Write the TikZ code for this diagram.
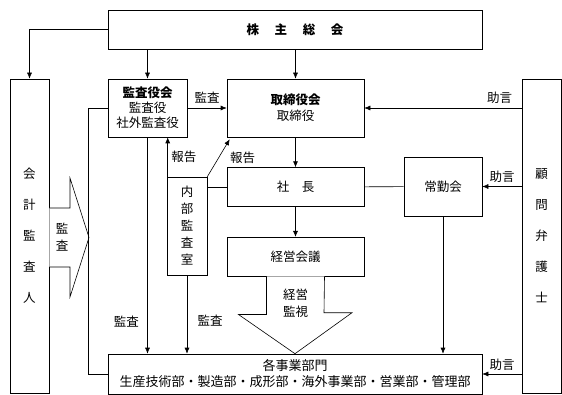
\documentclass[tikz,border=0pt]{standalone}
\usepackage{fontspec}
\setmainfont{Noto Sans CJK JP}
\usepackage{tikz}
\usetikzlibrary{arrows.meta,positioning}

\begin{document}
\begin{tikzpicture}[
  x=1pt,y=-1pt,
  line width=0.6pt,
  font=\fontsize{12.5}{15}\selectfont,
  box/.style={draw,align=center,inner sep=0pt},
  tall/.style={font=\fontsize{12.5}{31}\selectfont},
  arr/.style={-{Latex[length=6pt,width=5pt]}},
  blockarr/.style={draw,fill=white}
]
\useasboundingbox (0,0) rectangle (562,395);
\node[box,minimum width=374pt,minimum height=39pt] (soukai) at (295,29.5) {\textbf{株\hspace{1.25em}主\hspace{1.25em}総\hspace{1.25em}会}};
\node[box,tall,minimum width=39pt,minimum height=314pt] (kaikei) at (29.5,236) {会\\計\\監\\査\\人};
\node[box,minimum width=79pt,minimum height=58pt] (kansayaku) at (147.5,108) {\textbf{監査役会}\\監査役\\社外監査役};
\node[box,minimum width=137pt,minimum height=58pt,font=\fontsize{12.5}{16}\selectfont] (torishimari) at (295.5,108) {\textbf{取締役会}\\取締役};
\node[box,tall,minimum width=39pt,minimum height=314pt] (komon) at (541.5,236) {顧\\問\\弁\\護\\士};
\node[box,minimum width=137pt,minimum height=39pt,below=30pt of torishimari] (shacho) {社\hspace{1em}長};
\node[box,minimum width=137pt,minimum height=39pt,below=30pt of shacho] (keiei) {経営会議};
\node[box,minimum width=78pt,minimum height=59pt] (jokin) at (443,186.5) {常勤会};
\node[box,minimum width=40pt,minimum height=98pt,font=\fontsize{12.5}{17}\selectfont] (naibu) at (187,226) {内\\部\\監\\査\\室};
\node[box,minimum width=374pt,minimum height=40pt,font=\fontsize{13}{16}\selectfont] (jigyo) at (295,374) {各事業部門\\生産技術部・製造部・成形部・海外事業部・営業部・管理部};

\draw[blockarr] ([xshift=-29pt]keiei.south) -- ++(0,38) -- ++(-28,0) -- (jigyo.north) -- ++(57,-41) -- ++(-28,0) -- ([xshift=29pt]keiei.south);
\node[align=center,font=\fontsize{12.5}{17}\selectfont] (kanshi) at (295.5,303) {経営\\監視};
\draw[blockarr] (kaikei.east |- 0,208) -- (70,208) -- (70,178) -- (89,237.5) -- (70,297) -- (70,267) -- (kaikei.east |- 0,267);
\node[align=center,font=\fontsize{12.5}{17}\selectfont] (kansa) at (62,237) {監\\査};

\draw[arr] (soukai.west) -| (kaikei.north);
\draw[arr] (kansayaku.north |- soukai.south) -- (kansayaku.north);
\draw[arr] (torishimari.north |- soukai.south) -- (torishimari.north);
\draw[arr] (kansayaku.east) -- node[above=1pt] (l1) {監査} (torishimari.west);
\draw[arr] (komon.west |- torishimari) -- node[pos=0.14,above=1pt] (l2) {助言} (torishimari.east);
\draw[arr] (torishimari) -- (shacho);
\draw (shacho) -- (jokin);
\draw[arr] (komon.west |- jokin) -- node[above] (l3) {助言} (jokin.east);
\draw (naibu.east |- shacho) -- (shacho.west);
\draw[arr] ([xshift=1pt]naibu.north west) coordinate (r) -- (r |- kansayaku.south) node[midway,right] (l4) {報告};
\draw[arr] (naibu.north east) -- ([xshift=3pt,yshift=-2pt]torishimari.south west) node[midway,right=8pt] (l5) {報告};
\draw[arr] (shacho) -- (keiei);
\draw[arr] (kansayaku.south) -- node[pos=0.85,left=5pt] (l6) {監査} (kansayaku.south |- jigyo.north);
\draw[arr] (naibu.south) -- node[pos=0.58,right=7pt] (l7) {監査} (naibu.south |- jigyo.north);
\draw[arr] (jokin.south) -- (jokin.south |- jigyo.north);
\draw[arr] (komon.west |- jigyo) -- node[above] (l8) {助言} (jigyo.east);
\draw (kansayaku.west) -- ++(-19,0) |- (jigyo.west);
\end{tikzpicture}
\end{document}
